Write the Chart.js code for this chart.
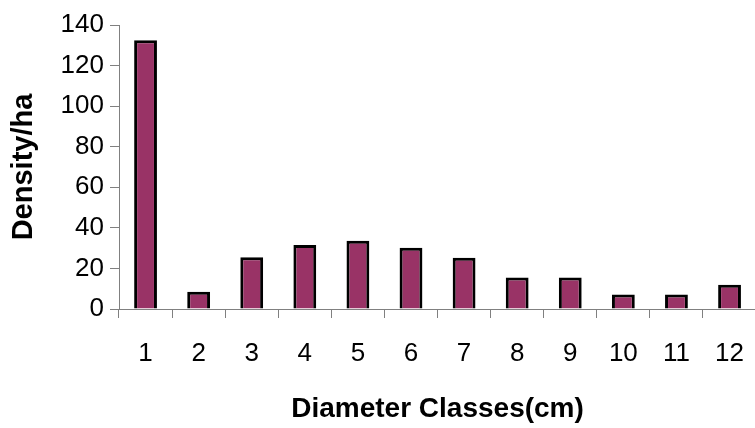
<!DOCTYPE html>
<html>
<head>
<meta charset="utf-8">
<script src="https://cdn.jsdelivr.net/npm/chart.js@4/dist/chart.umd.min.js"></script>
<style>
  html, body { margin: 0; padding: 0; background: #fff; overflow: hidden; }
  #wrap { width: 764px; height: 428px; }
</style>
</head>
<body>
<div id="wrap"><canvas id="myChart" width="764" height="428"></canvas></div>
<script>
// dados
const classes = ["1", "2", "3", "4", "5", "6", "7", "8", "9", "10", "11", "12"];
const densidade = [132.5, 8.5, 25.5, 31.5, 33.6, 30.2, 25.3, 15.5, 15.5, 7.2, 7.2, 12];
const yMin = 0;
const yMax = 140;
const yStep = 20;

const fonte = "'Liberation Sans', Arial, sans-serif";
const corEixo = "#808080";

const ctx = document.getElementById("myChart").getContext("2d");
const myChart = new Chart(ctx, {
  type: "bar",
  data: {
    labels: classes,
    datasets: [
      {
        label: "Density/ha",
        data: densidade,
        backgroundColor: "#993366",
        borderColor: "#000000",
        borderWidth: 3,
        barPercentage: 0.43,
        categoryPercentage: 1,
      },
    ],
  },
  options: {
    responsive: false,
    animation: false,
    layout: { padding: { left: 0, top: 25, right: 0, bottom: 0 } },
    plugins: {
      legend: { display: false },
      tooltip: { enabled: false },
    },
    scales: {
      x: {
        grid: {
          display: true,
          drawOnChartArea: false,
          drawTicks: true,
          tickLength: 9,
          color: corEixo,
          offset: true,
        },
        border: { color: corEixo, width: 1 },
        ticks: {
          color: "#000",
          font: { family: fonte, size: 26 },
          padding: 20,
          maxRotation: 0,
          autoSkip: false,
        },
        title: {
          display: true,
          text: "Diameter Classes(cm)",
          color: "#000",
          font: { family: fonte, size: 28, weight: "bold" },
          padding: { top: 0, bottom: 2 },
        },
        afterFit: (scale) => {
          scale.height = 119;
        },
      },
      y: {
        min: yMin,
        max: yMax,
        grid: {
          display: true,
          drawOnChartArea: false,
          drawTicks: true,
          tickLength: 9,
          color: corEixo,
        },
        border: { color: corEixo, width: 1 },
        ticks: {
          stepSize: yStep,
          color: "#000",
          font: { family: fonte, size: 26 },
          padding: 6,
        },
        title: {
          display: true,
          text: "Density/ha",
          color: "#000",
          font: { family: fonte, size: 29, weight: "bold" },
          padding: { top: 7, bottom: 0 },
        },
        afterFit: (scale) => {
          scale.width = 119;
        },
      },
    },
  },
});
</script>
</body>
</html>
